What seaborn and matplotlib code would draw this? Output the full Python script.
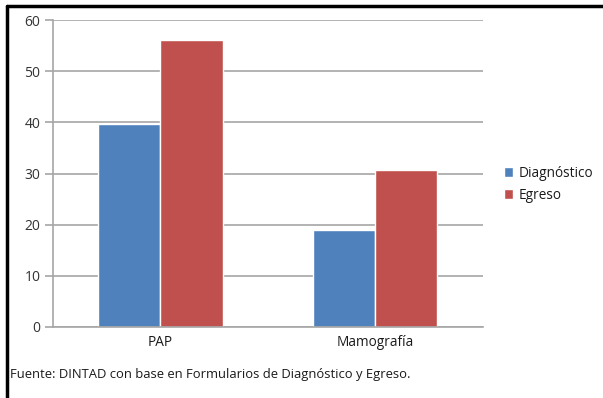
import pandas as pd
import seaborn as sns
import matplotlib.pyplot as plt
from matplotlib.lines import Line2D

categories = ['PAP', 'Mamografía']
series = ['Diagnóstico', 'Egreso']
diagnostico = [39.6, 18.9]
egreso = [56.0, 30.7]
yticks = [0, 10, 20, 30, 40, 50, 60]

df = pd.DataFrame({
    'Categoria': categories * 2,
    'Serie': [series[0]] * 2 + [series[1]] * 2,
    'Valor': diagnostico + egreso,
})

sns.set_style('white')
plt.rcParams['font.family'] = ['Open Sans', 'DejaVu Sans']

fig = plt.figure(figsize=(6.03, 3.98), dpi=100)
ax = fig.add_axes([0.0879, 0.1784, 0.713, 0.7713])

sns.barplot(data=df, x='Categoria', y='Valor', hue='Serie',
            palette=['#4F81BD', '#C0504D'], width=0.577, gap=0,
            saturation=1, ax=ax, legend=True)

ax.set_ylim(0, 60)
ax.set_xlim(-0.5, 1.5)
ax.set_yticks(yticks)
ax.yaxis.grid(True, color='#A6A6A6', linewidth=1.2)
ax.set_axisbelow(True)
ax.set_xlabel('')
ax.set_ylabel('')

for s in ['top', 'right']:
    ax.spines[s].set_visible(False)
for s in ['left', 'bottom']:
    ax.spines[s].set_color('#A6A6A6')
    ax.spines[s].set_linewidth(1.2)

ax.tick_params(axis='y', length=6, width=1.2, color='#A6A6A6', labelsize=10,
               labelcolor='#333333', left=True, pad=3)
ax.set_xticks([0, 1])
ax.set_xticklabels(categories)
ax.tick_params(axis='x', length=0, labelsize=9.8, labelcolor='#1a1a1a', pad=6)
# tick marks at category boundaries
ax.set_xticks([-0.5, 0.5, 1.5], minor=True)
ax.tick_params(axis='x', which='minor', length=5, width=1.2, color='#A6A6A6',
               direction='out')

leg = ax.legend(loc='center left', bbox_to_anchor=(1.02, 0.465), frameon=False,
                handlelength=0.7, handleheight=0.7, handletextpad=0.4,
                fontsize=9.8, labelspacing=0.55)
for t in leg.get_texts():
    t.set_color('#1a1a1a')

fig.text(0.017, 0.05, 'Fuente: DINTAD con base en Formularios de Diagnóstico y Egreso.',
         fontsize=9.4, color='#1a1a1a')

# frame lines of the original figure
fig.add_artist(Line2D([0.011, 1.0], [0.985, 0.985], color='black', linewidth=2.5,
                      transform=fig.transFigure))
fig.add_artist(Line2D([0.012, 0.012], [0.0, 0.985], color='black', linewidth=2.5,
                      transform=fig.transFigure))

plt.savefig('out.png', dpi=100)
